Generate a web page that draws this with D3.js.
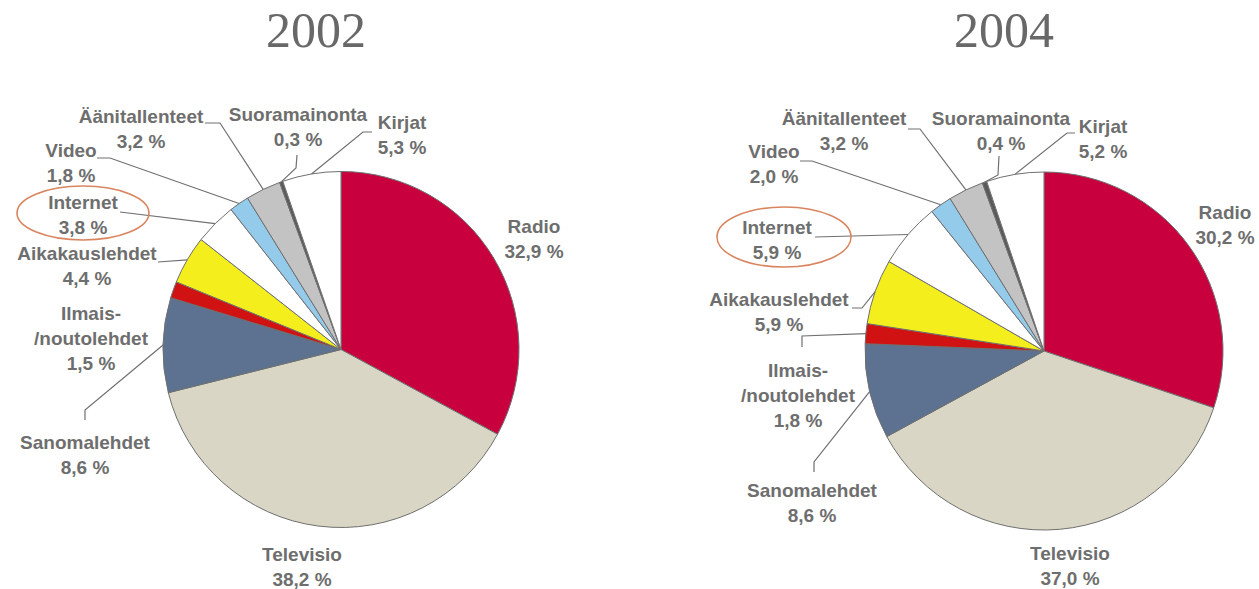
<!DOCTYPE html>
<html>
<head>
<meta charset="utf-8">
<script src="https://cdn.jsdelivr.net/npm/d3@7"></script>
<style>
  body { margin: 0; background: #fff; }
  .title { font-family: "Liberation Serif", "Times New Roman", serif; font-size: 50px; fill: #686868; }
  .label { font-family: "Liberation Sans", Arial, sans-serif; font-size: 19px; font-weight: bold; fill: #6e6e6e; }
  .leader { fill: none; stroke: #707070; stroke-width: 1.2; }
  .slice { stroke: #6f6f6f; stroke-width: 1; }
  .ring { fill: none; stroke: #d98560; stroke-width: 1.6; }
</style>
</head>
<body>
<svg width="1259" height="589"></svg>
<script>
// data
const categories = ["Radio", "Televisio", "Sanomalehdet", "Ilmais-/noutolehdet", "Aikakauslehdet",
  "Internet", "Video", "Äänitallenteet", "Suoramainonta", "Kirjat"];
const values2002 = [32.9, 38.2, 8.6, 1.5, 4.4, 3.8, 1.8, 3.2, 0.3, 5.3];
const values2004 = [30.2, 37.0, 8.6, 1.8, 5.9, 5.9, 2.0, 3.2, 0.4, 5.2];
const years = ["2002", "2004"];

const colors = ["#c8003e", "#d9d6c5", "#5c7290", "#d01212", "#f4ee1c",
  "#ffffff", "#94cbeb", "#c3c3c3", "#5a5a5a", "#ffffff"];

// label layout: x/y = centre of first text line, path = leader start points (arc point is added)
const layout2002 = {
  "Radio": {x: 534, y: 226},
  "Televisio": {x: 302, y: 554},
  "Sanomalehdet": {x: 85, y: 442, path: [[85, 420], [85, 410]]},
  "Ilmais-/noutolehdet": {x: 91, y: 313},
  "Aikakauslehdet": {x: 87, y: 253, path: [[158, 262]]},
  "Internet": {x: 83, y: 202, path: [[120, 212]], ring: {cx: 83, cy: 213, rx: 66, ry: 27}},
  "Video": {x: 71, y: 150, path: [[97, 158], [110, 158]]},
  "Äänitallenteet": {x: 141, y: 116, path: [[205, 123], [220, 123]]},
  "Suoramainonta": {x: 298, y: 114, path: [[297, 155], [296, 168]]},
  "Kirjat": {x: 402, y: 122, path: [[372, 132], [363, 132]]}
};
const layout2004 = {
  "Radio": {x: 1225, y: 212},
  "Televisio": {x: 1070, y: 553},
  "Sanomalehdet": {x: 812, y: 490, path: [[814, 472], [814, 462]]},
  "Ilmais-/noutolehdet": {x: 798, y: 370, path: [[802, 347], [802, 336]]},
  "Aikakauslehdet": {x: 779, y: 299, path: [[852, 308], [862, 308]]},
  "Internet": {x: 777, y: 227, path: [[815, 237]], ring: {cx: 784, cy: 237, rx: 67, ry: 30}},
  "Video": {x: 774, y: 151, path: [[800, 161], [812, 161]]},
  "Äänitallenteet": {x: 844, y: 118, path: [[908, 129], [920, 129]]},
  "Suoramainonta": {x: 1001, y: 118, path: [[999, 156], [998, 175]]},
  "Kirjat": {x: 1103, y: 126, path: [[1075, 133], [1067, 133]]}
};

const charts = [
  {year: years[0], values: values2002, layout: layout2002, cx: 341, cy: 349.5, r: 178, titleX: 316},
  {year: years[1], values: values2004, layout: layout2004, cx: 1044, cy: 351, r: 179, titleX: 1004}
];

const svg = d3.select("svg");
const lineGap = 25;
const fmt = v => v.toFixed(1).replace(".", ",") + " %";

const pie = d3.pie().sort(null).value(d => d.value);

charts.forEach(c => {
  const data = categories.map((name, i) => ({name, value: c.values[i], color: colors[i]}));
  const arcs = pie(data);
  const arc = d3.arc().innerRadius(0).outerRadius(c.r);
  const edge = d3.arc().innerRadius(c.r).outerRadius(c.r);

  svg.append("text")
    .attr("class", "title")
    .attr("x", c.titleX)
    .attr("y", 47)
    .attr("text-anchor", "middle")
    .text(c.year);

  const g = svg.append("g")
    .attr("transform", `translate(${c.cx},${c.cy})`);

  g.selectAll("path.slice")
    .data(arcs)
    .enter()
    .append("path")
    .attr("class", "slice")
    .attr("d", arc)
    .attr("fill", d => d.data.color);

  // leader lines
  const line = d3.line();
  arcs.forEach(a => {
    const l = c.layout[a.data.name];
    if (!l.path) return;
    const p = edge.centroid(a);
    const pts = l.path.concat([[p[0] + c.cx, p[1] + c.cy]]);
    svg.append("path").attr("class", "leader").attr("d", line(pts));
  });

  // labels
  arcs.forEach(a => {
    const l = c.layout[a.data.name];
    const name = a.data.name === "Ilmais-/noutolehdet" ? ["Ilmais-", "/noutolehdet"] : [a.data.name];
    const lines = name.concat([fmt(a.data.value)]);
    const t = svg.append("text")
      .attr("class", "label")
      .attr("text-anchor", "middle");
    t.selectAll("tspan")
      .data(lines)
      .enter()
      .append("tspan")
      .attr("x", l.x)
      .attr("y", (d, i) => l.y + i * lineGap)
      .attr("dominant-baseline", "central")
      .text(d => d);
    if (l.ring) {
      svg.append("ellipse")
        .attr("class", "ring")
        .attr("cx", l.ring.cx)
        .attr("cy", l.ring.cy)
        .attr("rx", l.ring.rx)
        .attr("ry", l.ring.ry);
    }
  });
});
</script>
</body>
</html>
